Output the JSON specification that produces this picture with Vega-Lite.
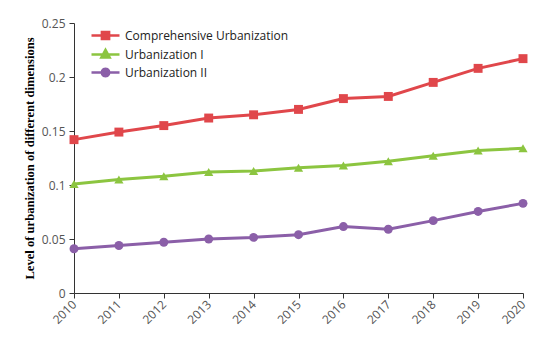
{
  "$schema": "https://vega.github.io/schema/vega-lite/v6.json",
  "width": 449,
  "height": 270,
  "autosize": "none",
  "padding": {"left": 74, "top": 23, "right": 27, "bottom": 55},
  "background": "white",
  "config": {"view": {"stroke": null}},
  "data": {"values": [
    {"year": 2010, "series": "Comprehensive Urbanization", "value": 0.142},
    {"year": 2011, "series": "Comprehensive Urbanization", "value": 0.149},
    {"year": 2012, "series": "Comprehensive Urbanization", "value": 0.155},
    {"year": 2013, "series": "Comprehensive Urbanization", "value": 0.162},
    {"year": 2014, "series": "Comprehensive Urbanization", "value": 0.165},
    {"year": 2015, "series": "Comprehensive Urbanization", "value": 0.170},
    {"year": 2016, "series": "Comprehensive Urbanization", "value": 0.180},
    {"year": 2017, "series": "Comprehensive Urbanization", "value": 0.182},
    {"year": 2018, "series": "Comprehensive Urbanization", "value": 0.195},
    {"year": 2019, "series": "Comprehensive Urbanization", "value": 0.208},
    {"year": 2020, "series": "Comprehensive Urbanization", "value": 0.217},
    {"year": 2010, "series": "Urbanization I", "value": 0.101},
    {"year": 2011, "series": "Urbanization I", "value": 0.105},
    {"year": 2012, "series": "Urbanization I", "value": 0.108},
    {"year": 2013, "series": "Urbanization I", "value": 0.112},
    {"year": 2014, "series": "Urbanization I", "value": 0.113},
    {"year": 2015, "series": "Urbanization I", "value": 0.116},
    {"year": 2016, "series": "Urbanization I", "value": 0.118},
    {"year": 2017, "series": "Urbanization I", "value": 0.122},
    {"year": 2018, "series": "Urbanization I", "value": 0.127},
    {"year": 2019, "series": "Urbanization I", "value": 0.132},
    {"year": 2020, "series": "Urbanization I", "value": 0.134},
    {"year": 2010, "series": "Urbanization II", "value": 0.041},
    {"year": 2011, "series": "Urbanization II", "value": 0.044},
    {"year": 2012, "series": "Urbanization II", "value": 0.047},
    {"year": 2013, "series": "Urbanization II", "value": 0.050},
    {"year": 2014, "series": "Urbanization II", "value": 0.0515},
    {"year": 2015, "series": "Urbanization II", "value": 0.054},
    {"year": 2016, "series": "Urbanization II", "value": 0.0615},
    {"year": 2017, "series": "Urbanization II", "value": 0.059},
    {"year": 2018, "series": "Urbanization II", "value": 0.067},
    {"year": 2019, "series": "Urbanization II", "value": 0.0755},
    {"year": 2020, "series": "Urbanization II", "value": 0.083}
  ]},
  "encoding": {
    "x": {
      "field": "year", "type": "quantitative",
      "scale": {"domain": [2010, 2020], "nice": false, "zero": false},
      "axis": {
        "title": null, "values": [2010,2011,2012,2013,2014,2015,2016,2017,2018,2019,2020],
        "format": "d", "grid": false, "domainColor": "#333", "tickColor": "#333",
        "tickSize": 5, "labelAngle": -45, "labelAlign": "right", "labelBaseline": "middle",
        "labelFont": "Open Sans", "labelFontSize": 12, "labelColor": "#555", "labelPadding": 4
      }
    },
    "y": {
      "field": "value", "type": "quantitative",
      "scale": {"domain": [0, 0.25], "nice": false},
      "axis": {
        "title": "Level of urbanization of different dimensions",
        "titleFont": "Liberation Serif", "titleFontSize": 12.6, "titleFontWeight": "bold", "titleColor": "#000",
        "titlePadding": 5,
        "values": [0, 0.05, 0.1, 0.15, 0.2, 0.25], "format": ".2~f",
        "grid": false, "domainColor": "#333", "tickColor": "#333", "tickSize": 5,
        "labelFont": "Open Sans", "labelFontSize": 12, "labelColor": "#555", "labelPadding": 4
      }
    }
  },
  "layer": [
    {
      "mark": {"type": "line", "strokeWidth": 3},
      "encoding": {
        "color": {"field": "series", "type": "nominal",
          "scale": {"domain": ["Comprehensive Urbanization", "Urbanization I", "Urbanization II"], "range": ["#E0474B", "#8CC540", "#8B5FA8"]},
          "legend": {
            "title": null, "orient": "none", "legendX": 22, "legendY": 3,
            "symbolSize": 256, "symbolStrokeWidth": 2.5,
            "labelFont": "Open Sans", "labelFontSize": 12, "labelColor": "#222", "labelLimit": 400,
            "labelOffset": 10, "rowPadding": -3
          }}
      }
    },
    {
      "transform": [{"filter": "datum.series === 'Comprehensive Urbanization'"}],
      "mark": {"type": "point", "filled": true, "opacity": 1, "size": 80, "shape": "square"},
      "encoding": {"color": {"field": "series", "type": "nominal"}}
    },
    {
      "transform": [{"filter": "datum.series === 'Urbanization I'"}],
      "mark": {"type": "point", "filled": true, "opacity": 1, "size": 85, "shape": "triangle-up"},
      "encoding": {"color": {"field": "series", "type": "nominal"}}
    },
    {
      "transform": [{"filter": "datum.series === 'Urbanization II'"}],
      "mark": {"type": "point", "filled": true, "opacity": 1, "size": 80, "shape": "circle"},
      "encoding": {"color": {"field": "series", "type": "nominal"}}
    },
    {
      "mark": {"type": "point", "filled": true, "size": 0},
      "encoding": {
        "color": {"field": "series", "type": "nominal"},
        "shape": {"field": "series", "type": "nominal",
          "scale": {"domain": ["Comprehensive Urbanization", "Urbanization I", "Urbanization II"], "range": [
            "M-1.75,0H1.75M-0.45,-0.45H0.45V0.45H-0.45Z",
            "M-1.75,0H1.75M0,-0.58L0.52,0.38H-0.52Z",
            "M-1.75,0H1.75M-0.47,0L-0.41,-0.235L-0.235,-0.41L0,-0.47L0.235,-0.41L0.41,-0.235L0.47,0L0.41,0.235L0.235,0.41L0,0.47L-0.235,0.41L-0.41,0.235Z"
          ]},
          "legend": {
            "title": null, "orient": "none", "legendX": 22, "legendY": 3,
            "symbolSize": 256, "symbolStrokeWidth": 2.5,
            "labelFont": "Open Sans", "labelFontSize": 12, "labelColor": "#222", "labelLimit": 400,
            "labelOffset": 10, "rowPadding": -3,
            "encode": {"symbols": {"update": {
              "size": {"value": 256},
              "fill": {"scale": "color", "field": "value"},
              "stroke": {"scale": "color", "field": "value"},
              "strokeWidth": {"value": 2.5},
              "opacity": {"value": 1}
            }}}
          }
        }
      }
    }
  ]
}
